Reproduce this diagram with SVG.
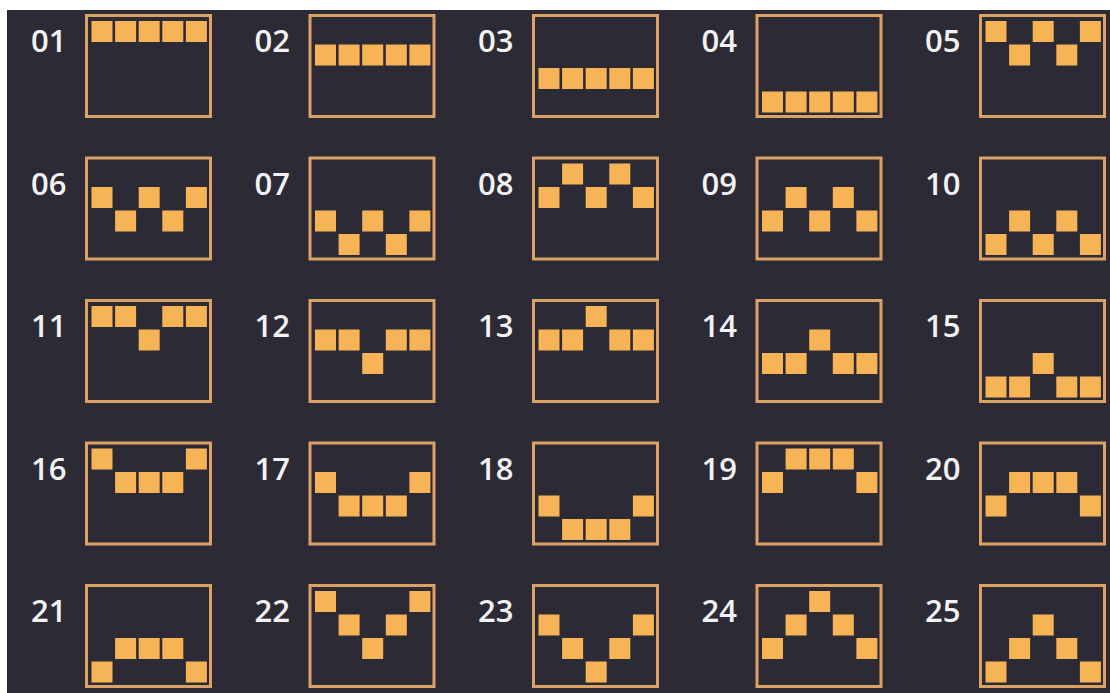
<svg xmlns="http://www.w3.org/2000/svg" width="1110" height="693" viewBox="0 0 1110 693">
<style>
.bg{fill:#2c2b35}
.frame{fill:none;stroke:#dba264;stroke-width:3}
.sq{fill:#f7b457}
.lbl{fill:#f2f2f2;font-family:"Open Sans","Liberation Sans",sans-serif;font-weight:600;font-size:31px}
</style>
<rect x="0" y="0" width="1110" height="693" fill="#ffffff"/>
<rect class="bg" x="7" y="10" width="1103" height="683"/>
<g id="connectors"></g>
<g id="cell01" transform="translate(85,14)"><text class="lbl" x="-54" y="38">01</text><rect class="frame" x="1.5" y="1.5" width="124" height="101"/><rect class="sq" x="6.5" y="7" width="21" height="21"/><rect class="sq" x="30.1" y="7" width="21" height="21"/><rect class="sq" x="53.7" y="7" width="21" height="21"/><rect class="sq" x="77.3" y="7" width="21" height="21"/><rect class="sq" x="100.9" y="7" width="21" height="21"/></g>
<g id="cell02" transform="translate(308.5,14)"><text class="lbl" x="-54" y="38">02</text><rect class="frame" x="1.5" y="1.5" width="124" height="101"/><rect class="sq" x="6.5" y="30.5" width="21" height="21"/><rect class="sq" x="30.1" y="30.5" width="21" height="21"/><rect class="sq" x="53.7" y="30.5" width="21" height="21"/><rect class="sq" x="77.3" y="30.5" width="21" height="21"/><rect class="sq" x="100.9" y="30.5" width="21" height="21"/></g>
<g id="cell03" transform="translate(532,14)"><text class="lbl" x="-54" y="38">03</text><rect class="frame" x="1.5" y="1.5" width="124" height="101"/><rect class="sq" x="6.5" y="54" width="21" height="21"/><rect class="sq" x="30.1" y="54" width="21" height="21"/><rect class="sq" x="53.7" y="54" width="21" height="21"/><rect class="sq" x="77.3" y="54" width="21" height="21"/><rect class="sq" x="100.9" y="54" width="21" height="21"/></g>
<g id="cell04" transform="translate(755.5,14)"><text class="lbl" x="-54" y="38">04</text><rect class="frame" x="1.5" y="1.5" width="124" height="101"/><rect class="sq" x="6.5" y="77.5" width="21" height="21"/><rect class="sq" x="30.1" y="77.5" width="21" height="21"/><rect class="sq" x="53.7" y="77.5" width="21" height="21"/><rect class="sq" x="77.3" y="77.5" width="21" height="21"/><rect class="sq" x="100.9" y="77.5" width="21" height="21"/></g>
<g id="cell05" transform="translate(979,14)"><text class="lbl" x="-54" y="38">05</text><rect class="frame" x="1.5" y="1.5" width="124" height="101"/><rect class="sq" x="6.5" y="7" width="21" height="21"/><rect class="sq" x="30.1" y="30.5" width="21" height="21"/><rect class="sq" x="53.7" y="7" width="21" height="21"/><rect class="sq" x="77.3" y="30.5" width="21" height="21"/><rect class="sq" x="100.9" y="7" width="21" height="21"/></g>
<g id="cell06" transform="translate(85,156.5)"><text class="lbl" x="-54" y="38">06</text><rect class="frame" x="1.5" y="1.5" width="124" height="101"/><rect class="sq" x="6.5" y="30.5" width="21" height="21"/><rect class="sq" x="30.1" y="54" width="21" height="21"/><rect class="sq" x="53.7" y="30.5" width="21" height="21"/><rect class="sq" x="77.3" y="54" width="21" height="21"/><rect class="sq" x="100.9" y="30.5" width="21" height="21"/></g>
<g id="cell07" transform="translate(308.5,156.5)"><text class="lbl" x="-54" y="38">07</text><rect class="frame" x="1.5" y="1.5" width="124" height="101"/><rect class="sq" x="6.5" y="54" width="21" height="21"/><rect class="sq" x="30.1" y="77.5" width="21" height="21"/><rect class="sq" x="53.7" y="54" width="21" height="21"/><rect class="sq" x="77.3" y="77.5" width="21" height="21"/><rect class="sq" x="100.9" y="54" width="21" height="21"/></g>
<g id="cell08" transform="translate(532,156.5)"><text class="lbl" x="-54" y="38">08</text><rect class="frame" x="1.5" y="1.5" width="124" height="101"/><rect class="sq" x="6.5" y="30.5" width="21" height="21"/><rect class="sq" x="30.1" y="7" width="21" height="21"/><rect class="sq" x="53.7" y="30.5" width="21" height="21"/><rect class="sq" x="77.3" y="7" width="21" height="21"/><rect class="sq" x="100.9" y="30.5" width="21" height="21"/></g>
<g id="cell09" transform="translate(755.5,156.5)"><text class="lbl" x="-54" y="38">09</text><rect class="frame" x="1.5" y="1.5" width="124" height="101"/><rect class="sq" x="6.5" y="54" width="21" height="21"/><rect class="sq" x="30.1" y="30.5" width="21" height="21"/><rect class="sq" x="53.7" y="54" width="21" height="21"/><rect class="sq" x="77.3" y="30.5" width="21" height="21"/><rect class="sq" x="100.9" y="54" width="21" height="21"/></g>
<g id="cell10" transform="translate(979,156.5)"><text class="lbl" x="-54" y="38">10</text><rect class="frame" x="1.5" y="1.5" width="124" height="101"/><rect class="sq" x="6.5" y="77.5" width="21" height="21"/><rect class="sq" x="30.1" y="54" width="21" height="21"/><rect class="sq" x="53.7" y="77.5" width="21" height="21"/><rect class="sq" x="77.3" y="54" width="21" height="21"/><rect class="sq" x="100.9" y="77.5" width="21" height="21"/></g>
<g id="cell11" transform="translate(85,299)"><text class="lbl" x="-54" y="38">11</text><rect class="frame" x="1.5" y="1.5" width="124" height="101"/><rect class="sq" x="6.5" y="7" width="21" height="21"/><rect class="sq" x="30.1" y="7" width="21" height="21"/><rect class="sq" x="53.7" y="30.5" width="21" height="21"/><rect class="sq" x="77.3" y="7" width="21" height="21"/><rect class="sq" x="100.9" y="7" width="21" height="21"/></g>
<g id="cell12" transform="translate(308.5,299)"><text class="lbl" x="-54" y="38">12</text><rect class="frame" x="1.5" y="1.5" width="124" height="101"/><rect class="sq" x="6.5" y="30.5" width="21" height="21"/><rect class="sq" x="30.1" y="30.5" width="21" height="21"/><rect class="sq" x="53.7" y="54" width="21" height="21"/><rect class="sq" x="77.3" y="30.5" width="21" height="21"/><rect class="sq" x="100.9" y="30.5" width="21" height="21"/></g>
<g id="cell13" transform="translate(532,299)"><text class="lbl" x="-54" y="38">13</text><rect class="frame" x="1.5" y="1.5" width="124" height="101"/><rect class="sq" x="6.5" y="30.5" width="21" height="21"/><rect class="sq" x="30.1" y="30.5" width="21" height="21"/><rect class="sq" x="53.7" y="7" width="21" height="21"/><rect class="sq" x="77.3" y="30.5" width="21" height="21"/><rect class="sq" x="100.9" y="30.5" width="21" height="21"/></g>
<g id="cell14" transform="translate(755.5,299)"><text class="lbl" x="-54" y="38">14</text><rect class="frame" x="1.5" y="1.5" width="124" height="101"/><rect class="sq" x="6.5" y="54" width="21" height="21"/><rect class="sq" x="30.1" y="54" width="21" height="21"/><rect class="sq" x="53.7" y="30.5" width="21" height="21"/><rect class="sq" x="77.3" y="54" width="21" height="21"/><rect class="sq" x="100.9" y="54" width="21" height="21"/></g>
<g id="cell15" transform="translate(979,299)"><text class="lbl" x="-54" y="38">15</text><rect class="frame" x="1.5" y="1.5" width="124" height="101"/><rect class="sq" x="6.5" y="77.5" width="21" height="21"/><rect class="sq" x="30.1" y="77.5" width="21" height="21"/><rect class="sq" x="53.7" y="54" width="21" height="21"/><rect class="sq" x="77.3" y="77.5" width="21" height="21"/><rect class="sq" x="100.9" y="77.5" width="21" height="21"/></g>
<g id="cell16" transform="translate(85,441.5)"><text class="lbl" x="-54" y="38">16</text><rect class="frame" x="1.5" y="1.5" width="124" height="101"/><rect class="sq" x="6.5" y="7" width="21" height="21"/><rect class="sq" x="30.1" y="30.5" width="21" height="21"/><rect class="sq" x="53.7" y="30.5" width="21" height="21"/><rect class="sq" x="77.3" y="30.5" width="21" height="21"/><rect class="sq" x="100.9" y="7" width="21" height="21"/></g>
<g id="cell17" transform="translate(308.5,441.5)"><text class="lbl" x="-54" y="38">17</text><rect class="frame" x="1.5" y="1.5" width="124" height="101"/><rect class="sq" x="6.5" y="30.5" width="21" height="21"/><rect class="sq" x="30.1" y="54" width="21" height="21"/><rect class="sq" x="53.7" y="54" width="21" height="21"/><rect class="sq" x="77.3" y="54" width="21" height="21"/><rect class="sq" x="100.9" y="30.5" width="21" height="21"/></g>
<g id="cell18" transform="translate(532,441.5)"><text class="lbl" x="-54" y="38">18</text><rect class="frame" x="1.5" y="1.5" width="124" height="101"/><rect class="sq" x="6.5" y="54" width="21" height="21"/><rect class="sq" x="30.1" y="77.5" width="21" height="21"/><rect class="sq" x="53.7" y="77.5" width="21" height="21"/><rect class="sq" x="77.3" y="77.5" width="21" height="21"/><rect class="sq" x="100.9" y="54" width="21" height="21"/></g>
<g id="cell19" transform="translate(755.5,441.5)"><text class="lbl" x="-54" y="38">19</text><rect class="frame" x="1.5" y="1.5" width="124" height="101"/><rect class="sq" x="6.5" y="30.5" width="21" height="21"/><rect class="sq" x="30.1" y="7" width="21" height="21"/><rect class="sq" x="53.7" y="7" width="21" height="21"/><rect class="sq" x="77.3" y="7" width="21" height="21"/><rect class="sq" x="100.9" y="30.5" width="21" height="21"/></g>
<g id="cell20" transform="translate(979,441.5)"><text class="lbl" x="-54" y="38">20</text><rect class="frame" x="1.5" y="1.5" width="124" height="101"/><rect class="sq" x="6.5" y="54" width="21" height="21"/><rect class="sq" x="30.1" y="30.5" width="21" height="21"/><rect class="sq" x="53.7" y="30.5" width="21" height="21"/><rect class="sq" x="77.3" y="30.5" width="21" height="21"/><rect class="sq" x="100.9" y="54" width="21" height="21"/></g>
<g id="cell21" transform="translate(85,584)"><text class="lbl" x="-54" y="38">21</text><rect class="frame" x="1.5" y="1.5" width="124" height="101"/><rect class="sq" x="6.5" y="77.5" width="21" height="21"/><rect class="sq" x="30.1" y="54" width="21" height="21"/><rect class="sq" x="53.7" y="54" width="21" height="21"/><rect class="sq" x="77.3" y="54" width="21" height="21"/><rect class="sq" x="100.9" y="77.5" width="21" height="21"/></g>
<g id="cell22" transform="translate(308.5,584)"><text class="lbl" x="-54" y="38">22</text><rect class="frame" x="1.5" y="1.5" width="124" height="101"/><rect class="sq" x="6.5" y="7" width="21" height="21"/><rect class="sq" x="30.1" y="30.5" width="21" height="21"/><rect class="sq" x="53.7" y="54" width="21" height="21"/><rect class="sq" x="77.3" y="30.5" width="21" height="21"/><rect class="sq" x="100.9" y="7" width="21" height="21"/></g>
<g id="cell23" transform="translate(532,584)"><text class="lbl" x="-54" y="38">23</text><rect class="frame" x="1.5" y="1.5" width="124" height="101"/><rect class="sq" x="6.5" y="30.5" width="21" height="21"/><rect class="sq" x="30.1" y="54" width="21" height="21"/><rect class="sq" x="53.7" y="77.5" width="21" height="21"/><rect class="sq" x="77.3" y="54" width="21" height="21"/><rect class="sq" x="100.9" y="30.5" width="21" height="21"/></g>
<g id="cell24" transform="translate(755.5,584)"><text class="lbl" x="-54" y="38">24</text><rect class="frame" x="1.5" y="1.5" width="124" height="101"/><rect class="sq" x="6.5" y="54" width="21" height="21"/><rect class="sq" x="30.1" y="30.5" width="21" height="21"/><rect class="sq" x="53.7" y="7" width="21" height="21"/><rect class="sq" x="77.3" y="30.5" width="21" height="21"/><rect class="sq" x="100.9" y="54" width="21" height="21"/></g>
<g id="cell25" transform="translate(979,584)"><text class="lbl" x="-54" y="38">25</text><rect class="frame" x="1.5" y="1.5" width="124" height="101"/><rect class="sq" x="6.5" y="77.5" width="21" height="21"/><rect class="sq" x="30.1" y="54" width="21" height="21"/><rect class="sq" x="53.7" y="30.5" width="21" height="21"/><rect class="sq" x="77.3" y="54" width="21" height="21"/><rect class="sq" x="100.9" y="77.5" width="21" height="21"/></g>
</svg>
